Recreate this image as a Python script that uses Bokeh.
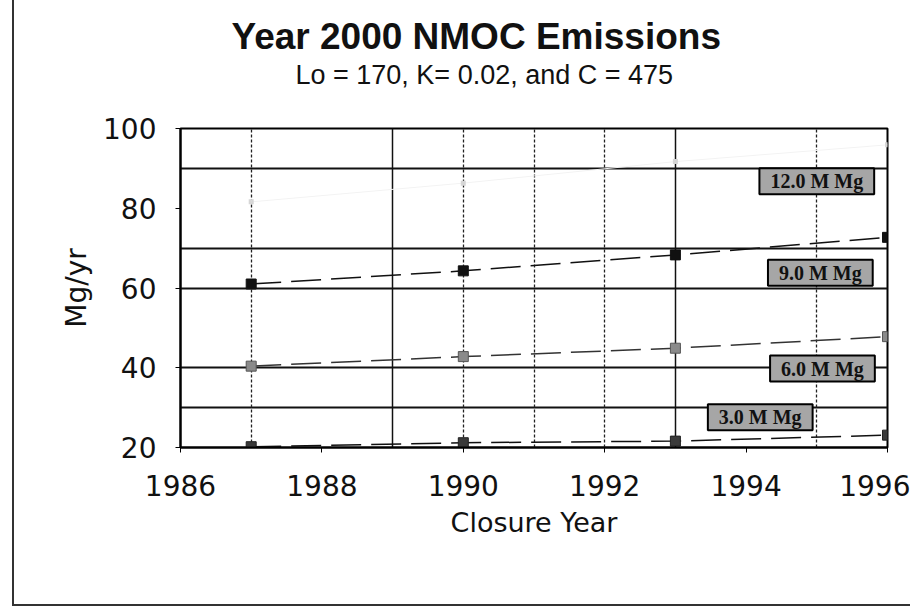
from bokeh.plotting import figure
from bokeh.models import Label, FixedTicker, Grid, Range1d, Title
from bokeh.embed import file_html
from bokeh.resources import INLINE

# ---------------- data ----------------
closure_years = [1987, 1990, 1993, 1996]
nmoc_12_0 = [81.6, 86.3, 91.7, 95.9]
nmoc_9_0 = [61.0, 64.3, 68.3, 72.7]
nmoc_6_0 = [40.4, 42.8, 44.9, 47.8]
nmoc_3_0 = [20.2, 21.2, 21.6, 23.1]

x_ticks = [1986, 1988, 1990, 1992, 1994, 1996]
y_ticks = [20, 40, 60, 80, 100]
grid_x_solid = [1989, 1993]
grid_x_dotted = [1987, 1990, 1991, 1992, 1995]
grid_y = [30, 40, 60, 70, 90]

series_labels = ["12.0 M Mg", "9.0 M Mg", "6.0 M Mg", "3.0 M Mg"]
label_x = [1995.0, 1995.05, 1995.08, 1994.2]
label_y = [86.8, 63.8, 39.8, 27.6]

title_text = "Year 2000 NMOC Emissions"
subtitle_text = "Lo = 170, K= 0.02, and C = 475"
x_title = "Closure Year"
y_title = "Mg/yr"

# ---------------- figure ----------------
p = figure(width=898, height=606, output_backend="svg", toolbar_location=None,
           x_range=Range1d(1986, 1996), y_range=Range1d(20, 100),
           min_border_left=166, min_border_right=25, min_border_top=128, min_border_bottom=159)
p.styles = {"margin-left": "12px", "border-left": "2px solid #333", "border-bottom": "2px solid #333"}
p.background_fill_color = "white"
p.border_fill_color = "white"
p.outline_line_color = "black"
p.outline_line_width = 2

# grids
p.xgrid.ticker = FixedTicker(ticks=grid_x_solid)
p.xgrid.grid_line_color = "#111111"
p.xgrid.grid_line_width = 1.5
p.ygrid.ticker = FixedTicker(ticks=grid_y)
p.ygrid.grid_line_color = "#111111"
p.ygrid.grid_line_width = 2
g2 = Grid(dimension=0, ticker=FixedTicker(ticks=grid_x_dotted),
          grid_line_color="#222222", grid_line_width=1.3, grid_line_dash="3 2")
p.add_layout(g2)

# axes
for ax in (p.xaxis[0], p.yaxis[0]):
    ax.axis_line_color = "black"
    ax.axis_line_width = 2
    ax.major_tick_line_color = "black"
    ax.major_tick_out = 5
    ax.major_tick_in = 0
    ax.minor_tick_line_color = None
    ax.major_label_text_font = "DejaVu Sans"
    ax.major_label_text_font_size = "28px"
    ax.major_label_text_color = "#111111"
    ax.axis_label_text_font = "DejaVu Sans"
    ax.axis_label_text_font_style = "normal"
    ax.axis_label_text_color = "#111111"

p.xaxis.ticker = FixedTicker(ticks=x_ticks)
p.yaxis.ticker = FixedTicker(ticks=y_ticks)
p.xaxis.major_label_standoff = 22
p.yaxis.major_label_standoff = 19
p.xaxis.axis_label = x_title
p.yaxis.axis_label = y_title
p.xaxis.axis_label_text_font_size = "27px"
p.yaxis.axis_label_text_font_size = "28px"
p.xaxis.axis_label_standoff = 8
p.yaxis.axis_label_standoff = 7

# series
line_dash = "30 10"
p.line(closure_years, nmoc_12_0, line_color="#f3f3f3", line_width=1.0)
p.scatter(closure_years, nmoc_12_0, marker="square", size=5, fill_color="#d6d6d6", line_color=None)

p.line(closure_years, nmoc_9_0, line_color="#111111", line_width=1.5, line_dash=line_dash)
p.scatter(closure_years, nmoc_9_0, marker="square", size=10, fill_color="#111111", line_color="#111111")

p.line(closure_years, nmoc_6_0, line_color="#333333", line_width=1.5, line_dash=line_dash)
p.scatter(closure_years, nmoc_6_0, marker="square", size=10, fill_color="#8a8a8a", line_color="#555555")

p.line(closure_years, nmoc_3_0, line_color="#111111", line_width=1.5, line_dash=line_dash)
p.scatter(closure_years, nmoc_3_0, marker="square", size=10, fill_color="#3a3a3a", line_color="#222222")

# series tags
for txt, lx, ly in zip(series_labels, label_x, label_y):
    p.add_layout(Label(x=lx, y=ly, text=txt, text_align="center", text_baseline="middle",
                       text_font="Liberation Serif", text_font_style="bold", text_font_size="20px",
                       text_color="#111111", background_fill_color="#a6a6a6",
                       border_line_color="black", border_line_width=2,
                       padding=dict(left=11, right=11, top=2, bottom=2)))

# titles (first added sits closest to the frame)
spacer = Title(text=" ", text_font_size="1px", standoff=36)
p.add_layout(spacer, "above")
sub = Title(text=subtitle_text, align="left", offset=115, standoff=0,
            text_font="Liberation Sans", text_font_style="normal", text_font_size="27px",
            text_color="#111111")
p.add_layout(sub, "above")
ttl = Title(text=title_text, align="left", offset=51, standoff=1,
            text_font="Liberation Sans", text_font_style="bold", text_font_size="37px",
            text_color="#111111")
p.add_layout(ttl, "above")

open("out.html", "w").write(file_html(p, INLINE))
